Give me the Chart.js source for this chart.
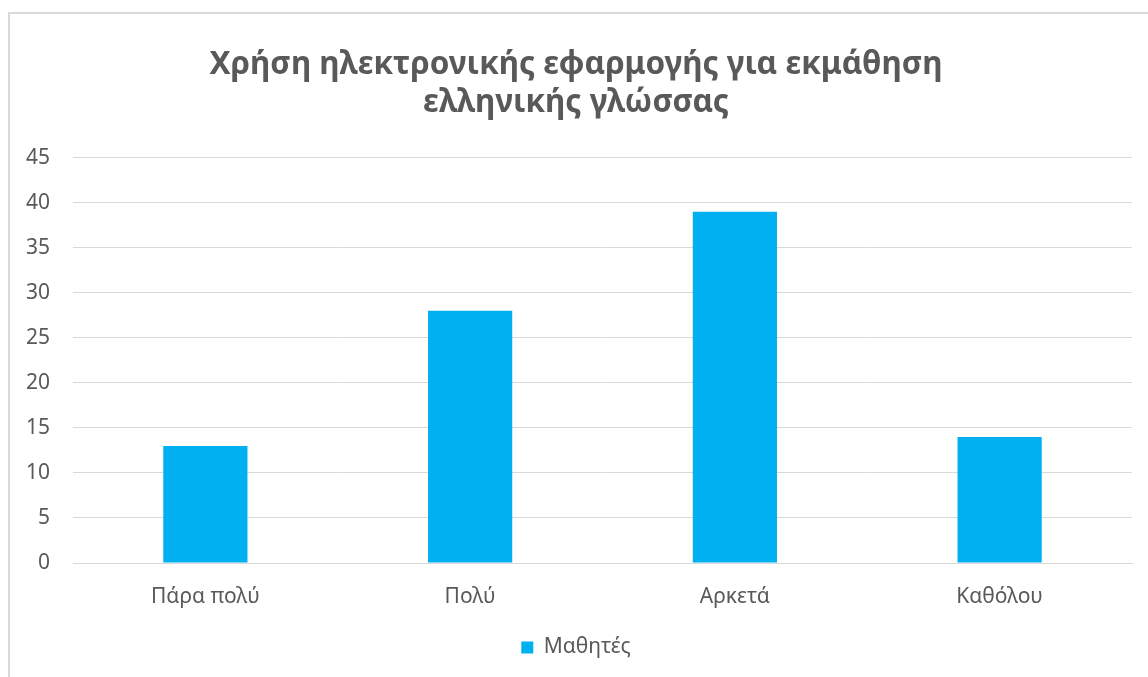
<!DOCTYPE html>
<html lang="el">
<head>
    <meta charset="UTF-8">
    <title>Χρήση ηλεκτρονικής εφαρμογής</title>
    <script src="https://cdn.jsdelivr.net/npm/chart.js"></script>
    <style>
        body {
            margin: 0;
            padding: 0;
            background: #ffffff;
            overflow: hidden;
        }
        .frame {
            position: absolute;
            left: 8px;
            top: 12px;
            width: 1200px;
            height: 720px;
            border: 2px solid #d9d9d9;
        }
        .wrap {
            position: absolute;
            left: 0;
            top: 0;
            width: 1148px;
            height: 677px;
        }
    </style>
</head>
<body>
<div class="frame"></div>
<div class="wrap">
    <canvas id="usageChart"></canvas>
</div>
<script>
    const categories = ['Πάρα πολύ', 'Πολύ', 'Αρκετά', 'Καθόλου'];
    const students = [13, 28, 39, 14];
    const seriesName = 'Μαθητές';
    const titleLines = ['Χρήση ηλεκτρονικής εφαρμογής για εκμάθηση', 'ελληνικής γλώσσας'];

    const textGray = '#595959';
    const gridGray = '#d9d9d9';
    const barBlue = '#00b0f0';

    const ctx = document.getElementById('usageChart').getContext('2d');
    new Chart(ctx, {
        type: 'bar',
        data: {
            labels: categories,
            datasets: [{
                label: seriesName,
                data: students,
                backgroundColor: barBlue,
                borderWidth: 0,
                categoryPercentage: 1,
                barPercentage: 0.318
            }]
        },
        options: {
            responsive: true,
            maintainAspectRatio: false,
            animation: false,
            layout: { padding: { left: 20, right: 16, top: 46, bottom: 9 } },
            plugins: {
                title: {
                    display: true,
                    text: titleLines,
                    color: textGray,
                    font: { family: 'Noto Sans', size: 31.5, weight: 'bold', lineHeight: 1.2 },
                    padding: { top: 0, bottom: 36 }
                },
                legend: {
                    position: 'bottom',
                    labels: {
                        color: textGray,
                        font: { family: 'Noto Sans', size: 21 },
                        boxWidth: 12,
                        boxHeight: 12,
                        padding: 10
                    }
                },
                tooltip: { enabled: false }
            },
            scales: {
                x: {
                    grid: { display: false, drawTicks: false },
                    border: { display: true, color: gridGray, width: 1 },
                    ticks: {
                        color: textGray,
                        font: { family: 'Noto Sans', size: 21 },
                        padding: 21
                    },
                    afterFit: (scale) => { scale.height = 64; }
                },
                y: {
                    min: 0,
                    max: 45,
                    ticks: {
                        stepSize: 5,
                        color: textGray,
                        font: { family: 'Noto Sans', size: 21 },
                        padding: 23
                    },
                    grid: { color: gridGray, lineWidth: 1, drawTicks: false },
                    border: { display: false },
                    afterFit: (scale) => { scale.width = 53; }
                }
            }
        }
    });
</script>
</body>
</html>
